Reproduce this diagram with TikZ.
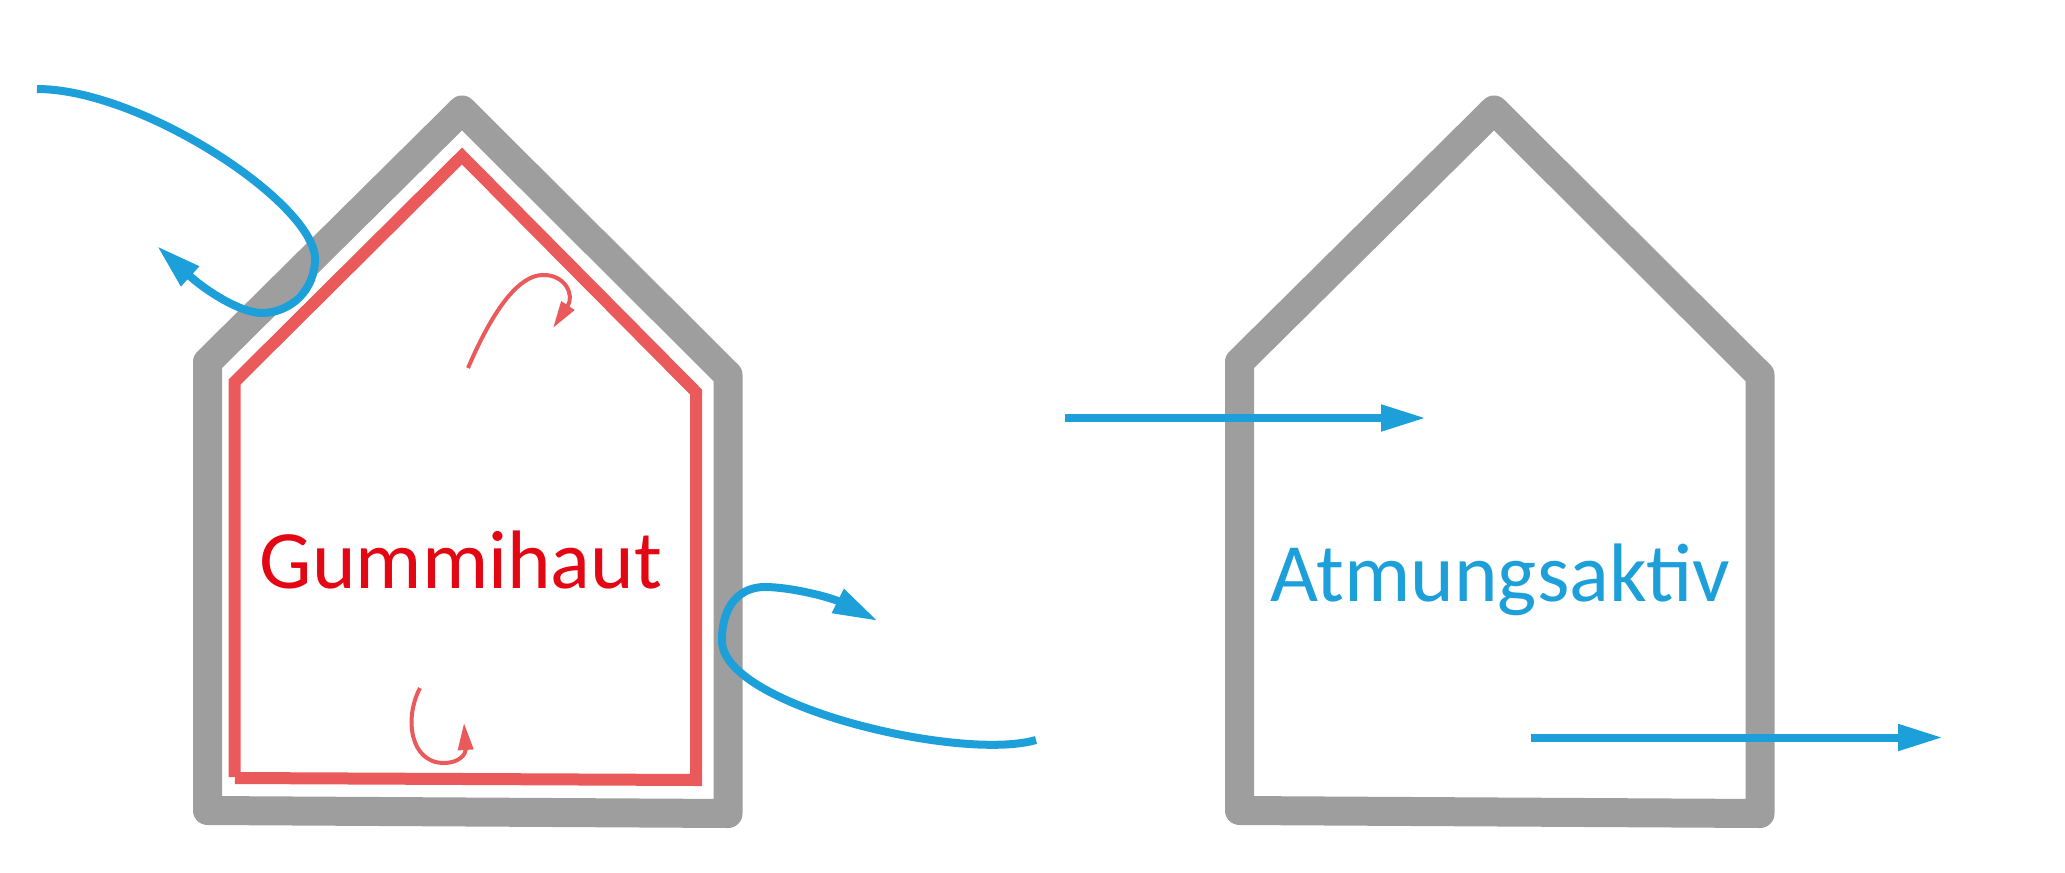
\documentclass[tikz,border=0pt]{standalone}
\usepackage{fontspec}
\setmainfont{Carlito}
\usetikzlibrary{arrows.meta}
\definecolor{wallgray}{RGB}{158,158,158}
\definecolor{skinred}{RGB}{235,90,90}
\definecolor{gummired}{RGB}{227,6,19}
\definecolor{flowblue}{RGB}{29,159,218}
\begin{document}
\begin{tikzpicture}[x=1pt,y=-1pt,
  wall/.style={draw=wallgray,line width=29pt,line join=round},
  skin/.style={draw=skinred,line width=12pt,line join=miter},
  flow/.style={draw=flowblue,line width=8pt,-{Triangle[length=45pt,width=25pt]}},
  swirl/.style={draw=skinred,line width=4pt,-{Triangle[length=27pt,width=15pt]}},
  lbl/.style={font=\fontsize{83}{100}\selectfont,anchor=base,inner sep=0pt}]
\useasboundingbox (0,0) rectangle (2065,873);

% houses
\draw[wall] (207.5,362) -- (462,110) -- (728,375) -- (728,813.5) -- (207.5,810.5) -- cycle;
\begin{scope}[shift={(1032,0)}]
\draw[wall] (207.5,362) -- (462,110) -- (728,375) -- (728,813.5) -- (207.5,810.5) -- cycle;
\end{scope}

% rubber skin
\draw[skin] (234.5,777) -- (234.5,382) -- (462,156) -- (696,392) -- (696,780) -- (235,778);

% labels
\node[lbl, text=gummired] (gummi) at (461,588) {Gummihaut};
\node[lbl, text=flowblue] (atmung) at (1500.5,601.7) {Atmungsaktiv};

% coordinates
\coordinate (a1s) at (37,89);
\coordinate (a1e) at (157,246);
\coordinate (a2s) at (1036,740);
\coordinate (a2e) at (878,621);
\coordinate (a3s) at (1065,418);
\coordinate (a3e) at (1426,418);
\coordinate (a4s) at (1531,737.5);
\coordinate (a4e) at (1943,737.5);
\coordinate (r1s) at (468,368);
\coordinate (r1e) at (553,328);
\coordinate (r2s) at (420,688);
\coordinate (r2e) at (464,723);

% small red swirls
\draw[swirl] (r1s) .. controls (495,305) and (520,276) .. (542,275)
  .. controls (565,274) and (575,295) .. (r1e);
\draw[swirl] (r2s) .. controls (404,718) and (410,763) .. (444,763)
  .. controls (458,763) and (466,755) .. (r2e);

% blue flows
\draw[flow] (a1s) .. controls (140,89) and (310,200) .. (315,257)
  .. controls (316,290) and (290,313) .. (262,313)
  .. controls (240,313) and (205,290) .. (a1e);
\draw[flow] (a2s) .. controls (960,762) and (720,705) .. (722,640)
  .. controls (722,605) and (740,587) .. (765,587)
  .. controls (790,587) and (830,597) .. (a2e);
\draw[flow] (a3s) -- (a3e);
\draw[flow] (a4s) -- (a4e);
\end{tikzpicture}
\end{document}
